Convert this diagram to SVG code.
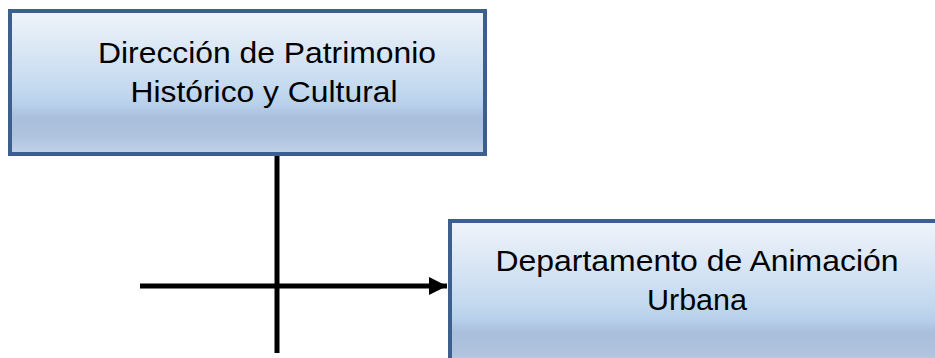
<svg xmlns="http://www.w3.org/2000/svg" width="935" height="358" viewBox="0 0 935 358">
<defs>
<linearGradient id="g" x1="0" y1="0" x2="0" y2="1">
<stop offset="0" stop-color="#f0f4fa"/>
<stop offset="0.55" stop-color="#c3d9ef"/>
<stop offset="0.66" stop-color="#b7cfea"/>
<stop offset="0.74" stop-color="#aabfdc"/>
<stop offset="0.88" stop-color="#afc3df"/>
<stop offset="1" stop-color="#c2d3e8"/>
</linearGradient>
<marker id="ah" viewBox="0 0 10 10" refX="10" refY="5" markerWidth="3.6" markerHeight="3.6" orient="auto" markerUnits="strokeWidth">
<path d="M0,0 L10,5 L0,10 z" fill="#000"/>
</marker>
<style>
.box{fill:url(#g);stroke:#3d5f8e;stroke-width:4}
.t{font-family:"Liberation Sans",Arial,sans-serif;font-size:30px;fill:#000;text-anchor:middle}
.c{stroke:#000;stroke-width:5;fill:none}
</style>
</defs>
<g id="connectors">
<line class="c" x1="277" y1="155" x2="277" y2="353"/>
<line class="c" x1="140" y1="286" x2="447" y2="286" marker-end="url(#ah)"/>
</g>
<g id="node1">
<rect class="box" x="10" y="11" width="475" height="143"/>
<text class="t" x="267" y="63" textLength="338" lengthAdjust="spacingAndGlyphs">Dirección de Patrimonio</text>
<text class="t" x="264" y="102" textLength="267" lengthAdjust="spacingAndGlyphs">Histórico y Cultural</text>
</g>
<g id="node2">
<rect class="box" x="450" y="221" width="500" height="150"/>
<text class="t" x="697" y="271" textLength="403" lengthAdjust="spacingAndGlyphs">Departamento de Animación</text>
<text class="t" x="697" y="310" textLength="100" lengthAdjust="spacingAndGlyphs">Urbana</text>
</g>
</svg>
